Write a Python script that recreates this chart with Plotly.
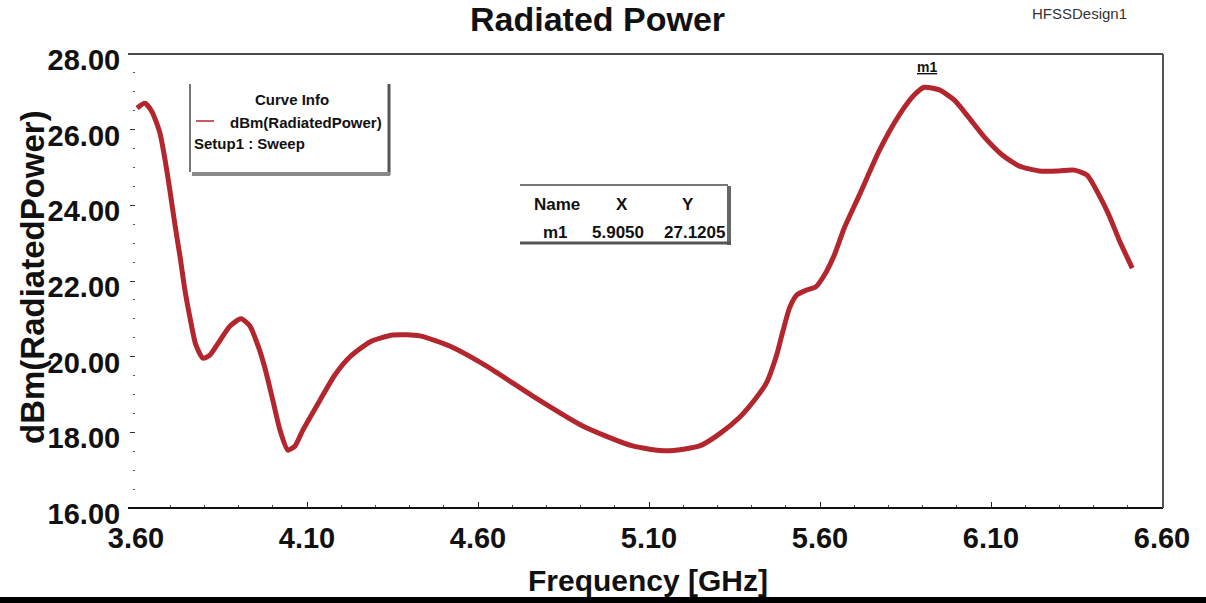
import plotly.graph_objects as go

# ---------------- data ----------------
freq_ghz = [3.603, 3.626, 3.647, 3.670, 3.685, 3.699, 3.714, 3.729, 3.743, 3.758,
            3.775, 3.796, 3.816, 3.837, 3.875, 3.907, 3.933, 3.956, 3.977, 4.000,
            4.021, 4.044, 4.065, 4.088, 4.138, 4.181, 4.225, 4.284, 4.351, 4.430,
            4.517, 4.625, 4.760, 4.906, 5.052, 5.151, 5.248, 5.306, 5.365, 5.408,
            5.443, 5.473, 5.490, 5.511, 5.532, 5.560, 5.587, 5.613, 5.642, 5.671,
            5.715, 5.774, 5.832, 5.876, 5.905, 5.949, 5.993, 6.036, 6.080, 6.133,
            6.182, 6.241, 6.299, 6.343, 6.381, 6.416, 6.445, 6.475, 6.513]
power_dbm = [26.57, 26.70, 26.47, 25.91, 25.20, 24.40, 23.48, 22.63, 21.76, 21.02,
             20.31, 19.96, 20.04, 20.31, 20.81, 21.00, 20.81, 20.31, 19.70, 18.85,
             18.06, 17.53, 17.64, 18.06, 18.85, 19.51, 19.99, 20.39, 20.57, 20.55,
             20.28, 19.75, 18.96, 18.17, 17.64, 17.51, 17.64, 17.96, 18.40, 18.85,
             19.30, 20.04, 20.62, 21.29, 21.63, 21.76, 21.84, 22.16, 22.69, 23.40,
             24.27, 25.46, 26.39, 26.92, 27.1205, 27.05, 26.78, 26.31, 25.81, 25.33,
             25.04, 24.91, 24.91, 24.93, 24.80, 24.27, 23.74, 23.08, 22.34]

x_tick_vals = [3.60, 4.10, 4.60, 5.10, 5.60, 6.10, 6.60]
y_tick_vals = [16.0, 18.0, 20.0, 22.0, 24.0, 26.0, 28.0]

marker_name = "m1"
marker_x = 5.9050
marker_y = 27.1205

chart_title = "Radiated Power"
design_name = "HFSSDesign1"
x_title = "Frequency [GHz]"
y_title = "dBm(RadiatedPower)"
legend_title = "Curve Info"
legend_trace = "dBm(RadiatedPower)"
legend_setup = "Setup1 : Sweep"

# ---------------- layout geometry (pixels) ----------------
W, H = 1206, 603
L, R, T, B = 136, 1162, 54, 508
FONT = "Liberation Sans, Arial, sans-serif"
RED = "#b3262e"


def px(x):
    return (x - L) / (R - L)


def py(y):
    return (B - y) / (B - T)


fig = go.Figure()
fig.add_trace(go.Scatter(
    x=freq_ghz, y=power_dbm, mode="lines",
    line=dict(color=RED, width=5, shape="spline", smoothing=0.6),
    showlegend=False, hoverinfo="x+y",
))

shapes = []
# plot frame
shapes.append(dict(type="line", xref="paper", yref="paper", x0=px(128), x1=px(1163), y0=1, y1=1,
                   line=dict(color="#4a4a4a", width=2)))
shapes.append(dict(type="line", xref="paper", yref="paper", x0=px(128), x1=px(1163), y0=0, y1=0,
                   line=dict(color="#111111", width=2)))
shapes.append(dict(type="line", xref="paper", yref="paper", x0=px(1163), x1=px(1163), y0=0, y1=1,
                   line=dict(color="#555555", width=2)))
# bottom black bar
shapes.append(dict(type="rect", xref="paper", yref="paper", x0=px(0), x1=px(W), y0=py(597), y1=py(604),
                   line=dict(width=0), fillcolor="#000000"))
# legend box
shapes.append(dict(type="rect", xref="paper", yref="paper", x0=px(190), x1=px(390), y0=py(174), y1=py(84),
                   line=dict(width=0), fillcolor="white"))
shapes.append(dict(type="line", xref="paper", yref="paper", x0=px(190), x1=px(190), y0=py(172), y1=py(84),
                   line=dict(color="#777777", width=2)))
shapes.append(dict(type="line", xref="paper", yref="paper", x0=px(389), x1=px(389), y0=py(175), y1=py(84),
                   line=dict(color="#555555", width=3)))
shapes.append(dict(type="line", xref="paper", yref="paper", x0=px(192), x1=px(390), y0=py(174), y1=py(174),
                   line=dict(color="#8a8a8a", width=4)))
shapes.append(dict(type="line", xref="paper", yref="paper", x0=px(196), x1=px(214), y0=py(121), y1=py(121),
                   line=dict(color=RED, width=1.5)))
# marker table box
shapes.append(dict(type="rect", xref="paper", yref="paper", x0=px(520), x1=px(728), y0=py(243), y1=py(185),
                   line=dict(width=0), fillcolor="white"))
shapes.append(dict(type="line", xref="paper", yref="paper", x0=px(520), x1=px(728), y0=py(185), y1=py(185),
                   line=dict(color="#777777", width=2)))
shapes.append(dict(type="line", xref="paper", yref="paper", x0=px(729), x1=px(729), y0=py(245), y1=py(186),
                   line=dict(color="#666666", width=4)))
shapes.append(dict(type="line", xref="paper", yref="paper", x0=px(520), x1=px(731), y0=py(243), y1=py(243),
                   line=dict(color="#555555", width=3)))

ann = []


def text(s, x, y, size, xanchor="center", yanchor="middle", bold=True, color="#111111", angle=0):
    ann.append(dict(text=s, xref="paper", yref="paper", x=px(x), y=py(y), xanchor=xanchor,
                    yanchor=yanchor, showarrow=False, textangle=angle,
                    font=dict(family=FONT, size=size, color=color, weight="bold" if bold else "normal")))


text(chart_title, 597, 19, 34)
text(design_name, 1030, 13, 15, xanchor="left", bold=False, color="#333333")
text(y_title, 32, 277, 33, angle=-90)
text(x_title, 648, 580, 30)
# legend
text(legend_title, 292, 99, 15)
text(legend_trace, 228, 122, 15, xanchor="left")
text(legend_setup, 192, 143, 15, xanchor="left")
# marker table
text("Name", 557, 204, 17)
text("X", 622, 204, 17)
text("Y", 688, 204, 17)
text(marker_name, 555, 233, 17)
text(f"{marker_x:.4f}", 618, 233, 17)
text(f"{marker_y:.4f}", 694, 233, 17)
# marker label above peak
ann.append(dict(text=f"<b><u>{marker_name}</u></b>", x=marker_x, y=marker_y, xref="x", yref="y",
                showarrow=False, yshift=20, xshift=3,
                font=dict(family=FONT, size=14, color="#111111")))

fig.update_layout(
    width=W, height=H,
    margin=dict(l=L, r=W - R, t=T, b=H - B, pad=0),
    paper_bgcolor="white", plot_bgcolor="white",
    shapes=shapes, annotations=ann,
    xaxis=dict(range=[3.6, 6.6], tickvals=x_tick_vals, ticktext=[f"{v:.2f}" for v in x_tick_vals],
               tickfont=dict(family=FONT, size=29, color="#111111", weight="bold"),
               ticks="inside", ticklen=6, tickcolor="#222222", tickwidth=1,
               minor=dict(ticks="inside", ticklen=3, dtick=0.1, tick0=3.6, tickcolor="#444444"),
               showgrid=False, zeroline=False, showline=False, ticklabelstandoff=10),
    yaxis=dict(range=[16, 28], tickvals=y_tick_vals, ticktext=[f"{v:.2f}" for v in y_tick_vals],
               tickfont=dict(family=FONT, size=29, color="#111111", weight="bold"),
               ticks="outside", ticklen=5, tickcolor="#333333", tickwidth=1,
               minor=dict(ticks="outside", ticklen=2, dtick=0.5, tick0=16, tickcolor="#555555"),
               showgrid=False, zeroline=False, showline=False, ticklabelstandoff=4,
               ticklabelshift=6),
)

fig.write_html("out.html")
